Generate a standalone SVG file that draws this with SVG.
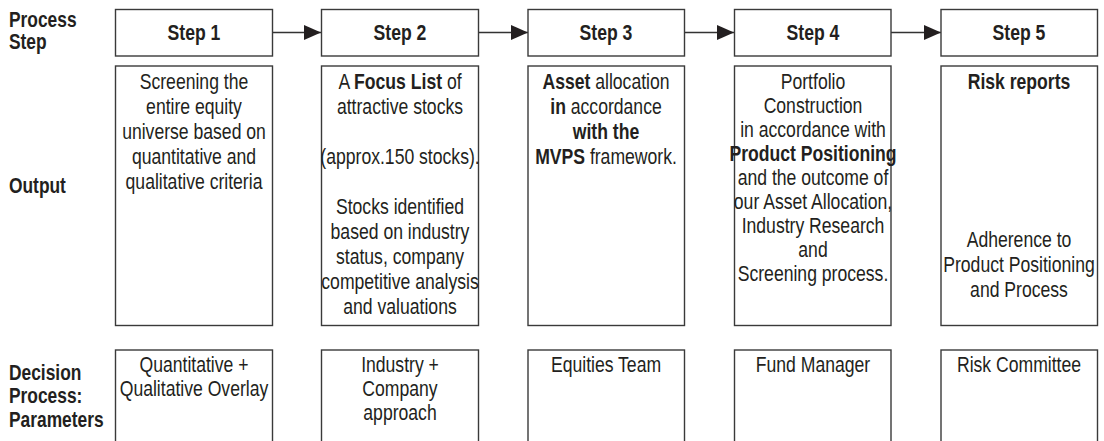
<svg xmlns="http://www.w3.org/2000/svg" width="1104" height="441" viewBox="0 0 1104 441">
<style>
  text { font-family: "Liberation Sans", Arial, sans-serif; font-size: 22px; fill: #231f20; }
  .lbl { font-weight: bold; }
  .c { text-anchor: middle; }
  .b { font-weight: bold; }
  .box { fill: #ffffff; stroke: #3a3a3a; stroke-width: 1.4; }
  .conn { stroke: #333333; stroke-width: 1.4; fill: none; }
</style>
<defs>
  <marker id="arr" markerUnits="userSpaceOnUse" markerWidth="17" markerHeight="16" refX="17" refY="8" orient="auto">
    <path d="M0,0.5 L17,8 L0,15.5 Z" fill="#231f20"/>
  </marker>
</defs>
<rect width="1104" height="441" fill="#ffffff"/>

<g id="row-labels" transform="translate(9,0) scale(0.79,1)">
  <text class="lbl" x="0" y="27">Process</text>
  <text class="lbl" x="0" y="49.5">Step</text>
  <text class="lbl" x="0" y="193">Output</text>
  <text class="lbl" x="0" y="380">Decision</text>
  <text class="lbl" x="0" y="403.5">Process:</text>
  <text class="lbl" x="0" y="427">Parameters</text>
</g>

<g id="connectors">
  <line class="conn" x1="272" y1="32.5" x2="321" y2="32.5" marker-end="url(#arr)"/>
  <line class="conn" x1="478" y1="32.5" x2="528" y2="32.5" marker-end="url(#arr)"/>
  <line class="conn" x1="684" y1="32.5" x2="734" y2="32.5" marker-end="url(#arr)"/>
  <line class="conn" x1="891" y1="32.5" x2="941" y2="32.5" marker-end="url(#arr)"/>
</g>

<g id="step1">
  <rect class="box" x="115.5" y="9.5" width="157" height="46.5"/>
  <g transform="translate(194,0) scale(0.8,1)"><text class="c b" x="0" y="40.5">Step 1</text></g>
</g>
<g id="step2">
  <rect class="box" x="321.5" y="9.5" width="157" height="46.5"/>
  <g transform="translate(400,0) scale(0.8,1)"><text class="c b" x="0" y="40.5">Step 2</text></g>
</g>
<g id="step3">
  <rect class="box" x="528" y="9.5" width="156.5" height="46.5"/>
  <g transform="translate(606,0) scale(0.8,1)"><text class="c b" x="0" y="40.5">Step 3</text></g>
</g>
<g id="step4">
  <rect class="box" x="734.5" y="9.5" width="156.5" height="46.5"/>
  <g transform="translate(813,0) scale(0.8,1)"><text class="c b" x="0" y="40.5">Step 4</text></g>
</g>
<g id="step5">
  <rect class="box" x="941" y="9.5" width="156.5" height="46.5"/>
  <g transform="translate(1019,0) scale(0.8,1)"><text class="c b" x="0" y="40.5">Step 5</text></g>
</g>

<g id="output1">
  <rect class="box" x="115.5" y="66" width="157" height="259.5"/>
  <g transform="translate(194,0) scale(0.8,1)">
    <text class="c" x="0" y="89.5">Screening the</text>
    <text class="c" x="0" y="114.5">entire equity</text>
    <text class="c" x="0" y="139.5">universe based on</text>
    <text class="c" x="0" y="164.5">quantitative and</text>
    <text class="c" x="0" y="189.5">qualitative criteria</text>
  </g>
</g>
<g id="output2">
  <rect class="box" x="321.5" y="66" width="157" height="259.5"/>
  <g transform="translate(400,0) scale(0.8,1)">
    <text class="c" x="0" y="89.5">A <tspan class="b">Focus List</tspan> of</text>
    <text class="c" x="0" y="114.5">attractive stocks</text>
    <text class="c" x="0" y="164.5">(approx.150 stocks).</text>
    <text class="c" x="0" y="214.5">Stocks identified</text>
    <text class="c" x="0" y="239.5">based on industry</text>
    <text class="c" x="0" y="264.5">status, company</text>
    <text class="c" x="0" y="289.5">competitive analysis</text>
    <text class="c" x="0" y="314.5">and valuations</text>
  </g>
</g>
<g id="output3">
  <rect class="box" x="528" y="66" width="156.5" height="259.5"/>
  <g transform="translate(606,0) scale(0.8,1)">
    <text class="c" x="0" y="89.5"><tspan class="b">Asset</tspan> allocation</text>
    <text class="c" x="0" y="114.5"><tspan class="b">in</tspan> accordance</text>
    <text class="c b" x="0" y="139.5">with the</text>
    <text class="c" x="0" y="164.5"><tspan class="b">MVPS</tspan> framework.</text>
  </g>
</g>
<g id="output4">
  <rect class="box" x="734.5" y="66" width="156.5" height="259.5"/>
  <g transform="translate(813,0) scale(0.8,1)">
    <text class="c" x="0" y="89.5">Portfolio</text>
    <text class="c" x="0" y="113.5">Construction</text>
    <text class="c" x="0" y="137.5">in accordance with</text>
    <text class="c b" x="0" y="161.5">Product Positioning</text>
    <text class="c" x="0" y="185.5">and the outcome of</text>
    <text class="c" x="0" y="209.5">our Asset Allocation,</text>
    <text class="c" x="0" y="233.5">Industry Research</text>
    <text class="c" x="0" y="257.5">and</text>
    <text class="c" x="0" y="281.5">Screening process.</text>
  </g>
</g>
<g id="output5">
  <rect class="box" x="941" y="66" width="156.5" height="259.5"/>
  <g transform="translate(1019,0) scale(0.8,1)">
    <text class="c b" x="0" y="89.5">Risk reports</text>
    <text class="c" x="0" y="247.5">Adherence to</text>
    <text class="c" x="0" y="272.5">Product Positioning</text>
    <text class="c" x="0" y="297.5">and Process</text>
  </g>
</g>

<g id="decision1">
  <rect class="box" x="115.5" y="350" width="157" height="100"/>
  <g transform="translate(194,0) scale(0.8,1)">
    <text class="c" x="0" y="372">Quantitative +</text>
    <text class="c" x="0" y="396">Qualitative Overlay</text>
  </g>
</g>
<g id="decision2">
  <rect class="box" x="321.5" y="350" width="157" height="100"/>
  <g transform="translate(400,0) scale(0.8,1)">
    <text class="c" x="0" y="372">Industry +</text>
    <text class="c" x="0" y="396">Company</text>
    <text class="c" x="0" y="420">approach</text>
  </g>
</g>
<g id="decision3">
  <rect class="box" x="528" y="350" width="156.5" height="100"/>
  <g transform="translate(606,0) scale(0.8,1)"><text class="c" x="0" y="372">Equities Team</text></g>
</g>
<g id="decision4">
  <rect class="box" x="734.5" y="350" width="156.5" height="100"/>
  <g transform="translate(813,0) scale(0.8,1)"><text class="c" x="0" y="372">Fund Manager</text></g>
</g>
<g id="decision5">
  <rect class="box" x="941" y="350" width="156.5" height="100"/>
  <g transform="translate(1019,0) scale(0.8,1)"><text class="c" x="0" y="372">Risk Committee</text></g>
</g>
</svg>
